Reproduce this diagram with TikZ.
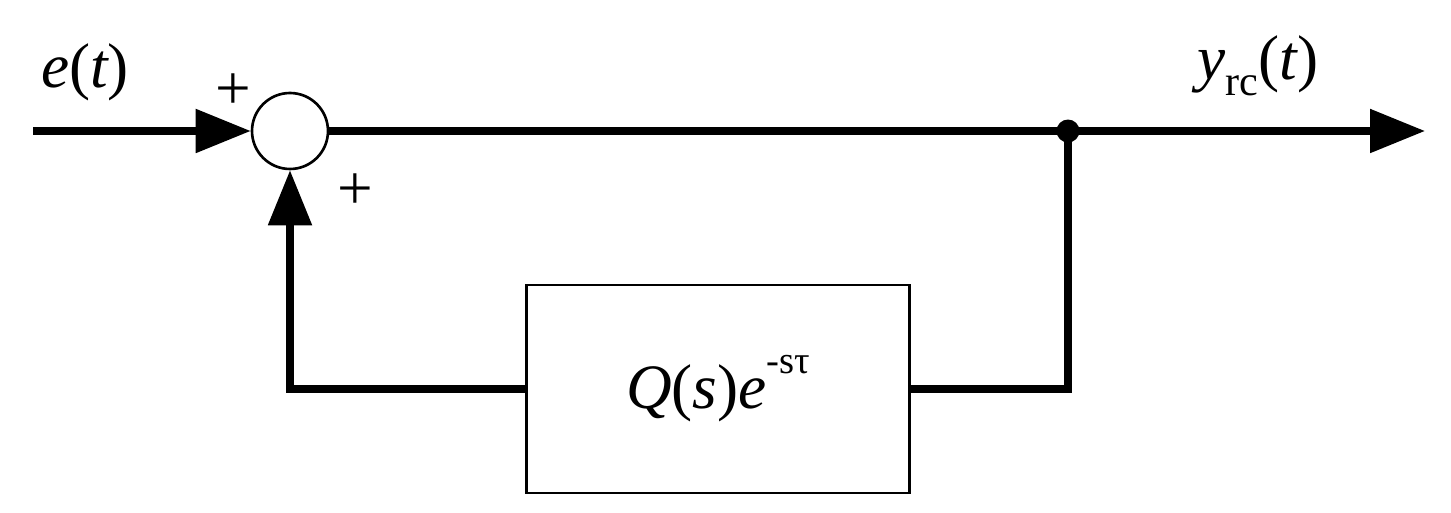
\documentclass[tikz,border=0pt]{standalone}
\usepackage{fontspec}
\setmainfont{Liberation Serif}
\usetikzlibrary{arrows.meta}
\begin{document}
\begin{tikzpicture}[x=0.02cm,y=-0.02cm,
  wire/.style={line width=4pt},
  bigarrow/.style={-{Triangle[length=1.1cm,width=0.85cm]}},
  lbl/.style={font=\fontsize{36}{40}\selectfont, inner sep=0pt}]
\useasboundingbox (0,0) rectangle (1451,513);
\node[circle, draw, line width=1.5pt, minimum size=1.52cm, inner sep=0pt] (sum) at (290,131) {};
\coordinate (in) at (33,131);
\coordinate (out) at (1425,131);
\coordinate (br) at (1068,131);
\node[draw, line width=1.5pt, minimum width=7.66cm, minimum height=4.16cm, inner sep=0pt] (Q) at (718,389)
  {\fontsize{36}{40}\selectfont\itshape Q\upshape(\itshape s\upshape)\itshape e\upshape\raisebox{0.55em}{\fontsize{22}{24}\selectfont -sτ}};
\draw[wire, bigarrow] (in) -- (sum.west);
\draw[wire] (sum.east) -- (br);
\draw[wire, bigarrow] (br) -- (out);
\fill (br) circle (0.23cm);
\coordinate (c1) at (1068,389);
\coordinate (c2) at (290,389);
\draw[wire] (br) -- (c1) -- (Q.east);
\draw[wire, bigarrow] (Q.west) -- (c2) -- (sum.south);
\node[lbl] (et) at (85,72) {\itshape e\upshape(\itshape t\upshape)};
\node[lbl] (p1) at (233,92) {+};
\node[lbl] (p2) at (355,192) {+};
\node[lbl] (yt) at (1258,66) {\itshape y\upshape\raisebox{-0.25em}{\fontsize{24}{26}\selectfont rc}(\itshape t\upshape)};
\end{tikzpicture}
\end{document}
